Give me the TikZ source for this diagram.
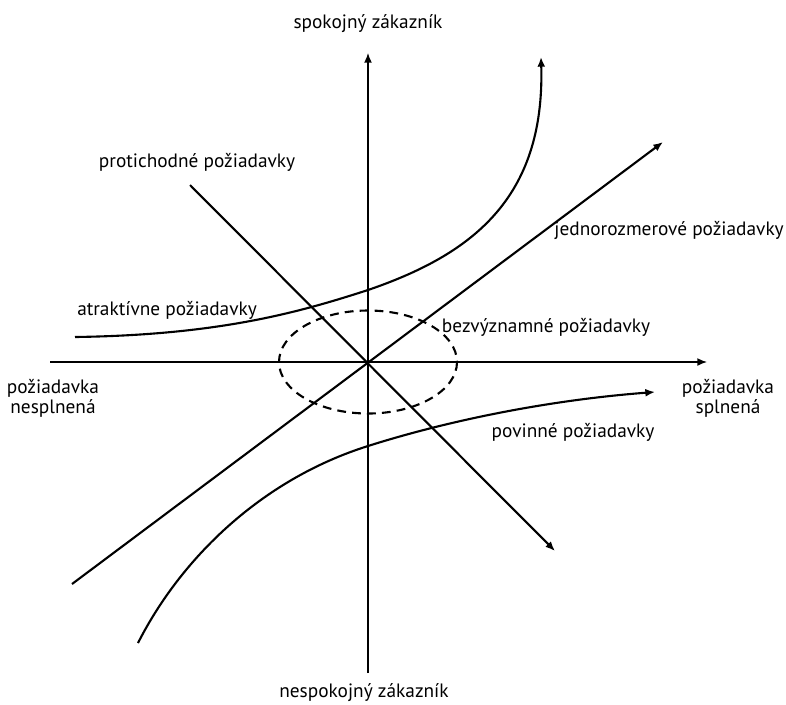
\documentclass[tikz,border=0pt]{standalone}
\usepackage{fontspec}
\setmainfont{PT Sans}
\usetikzlibrary{arrows.meta}
\tikzset{
  osa/.style={line width=0.8pt,-{Latex[length=5.5pt,width=4.5pt]}},
  krivka/.style={line width=1.2pt},
  popis/.style={font=\fontsize{11}{11.5}\selectfont,align=center,inner sep=0pt}
}

\begin{document}
\begin{tikzpicture}[x=0.02cm,y=-0.02cm]
\useasboundingbox (0,0) rectangle (786,704);
% stred a konce osi
\coordinate (o) at (368,362);
\coordinate (xl) at (50,362);
\coordinate (xr) at (707,362);
\coordinate (yd) at (368,673);
\coordinate (yh) at (368,53);
% konce priamok
\coordinate (jl) at (72,584);
\coordinate (jp) at (663,142);
\coordinate (pl) at (190,185);
\coordinate (pp) at (555,551);
% konce kriviek
\coordinate (al) at (75,337);
\coordinate (am) at (368,290);
\coordinate (ap) at (541,57);
\coordinate (vl) at (138,643);
\coordinate (vm) at (368,446);
\coordinate (vp) at (655,392);
% popisy
\node[popis] (spok) at (368,24) {spokojný zákazník};
\node[popis] (nespok) at (364,693) {nespokojný zákazník};
\node[popis] (nespl) at (53,398) {požiadavka\\nesplnená};
\node[popis] (spl) at (728,398) {požiadavka\\splnená};
\node[popis] (proti) at (197,162) {protichodné požiadavky};
\node[popis] (atrak) at (167,310) {atraktívne požiadavky};
\node[popis] (jedno) at (669,230) {jednorozmerové požiadavky};
\node[popis] (bezv) at (546,327) {bezvýznamné požiadavky};
\node[popis] (povin) at (573,432) {povinné požiadavky};
% osi
\draw[osa] (xl) -- (xr);
\draw[osa] (yd) -- (yh);
% priamky
\draw[krivka,-{Latex[length=5.5pt,width=4.5pt]}] (jl) -- (jp);
\draw[krivka,-{Latex[length=5.5pt,width=4.5pt]}] (pl) -- (pp);
% krivky
\draw[krivka,-{Latex[length=5.5pt,width=4.5pt]}] (al) .. controls (220,335) and (300,312) .. (am)
  .. controls (470,255) and (545,200) .. (ap);
\draw[krivka,-{Latex[length=5.5pt,width=4.5pt]}] (vl) .. controls (180,560) and (260,480) .. (vm)
  .. controls (450,420) and (550,400) .. (vp);
% oblast bezvyznamnych poziadaviek
\draw[krivka,dash pattern=on 5pt off 3.5pt] (o) ellipse [x radius=89,y radius=51.5];
\end{tikzpicture}
\end{document}
